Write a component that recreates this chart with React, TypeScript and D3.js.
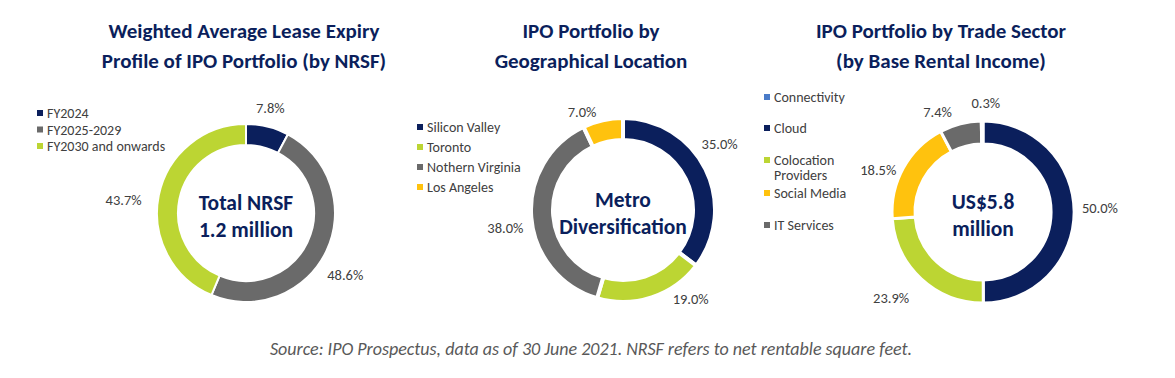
import React from "react";
import * as d3 from "d3";

const W = 1175;
const H = 378;

const NAVY = "#0b1f5c";
const GRAY = "#6a6a6a";
const LIME = "#bcd533";
const YELLOW = "#ffc20e";
const BLUE = "#4a7bc8";
const TEXT = "#404040";
const FONT = "Carlito, Lato, 'Open Sans', sans-serif";

// Chart 1: lease expiry
const leaseCategories = ["FY2024", "FY2025-2029", "FY2030 and onwards"];
const leaseValues = [7.8, 48.6, 43.7];
const leaseColors = [NAVY, GRAY, LIME];

// Chart 2: geography
const geoLegend = ["Silicon Valley", "Toronto", "Nothern Virginia", "Los Angeles"];
const geoValues = [35.0, 19.0, 38.0, 7.0];
const geoColors = [NAVY, LIME, GRAY, YELLOW];

// Chart 3: trade sector; pie order starts with Cloud
const sectorCategories = ["Connectivity", "Cloud", "Colocation Providers", "Social Media", "IT Services"];
const sectorValues = [0.3, 50.0, 23.9, 18.5, 7.4];
const sectorColors = [BLUE, NAVY, LIME, YELLOW, GRAY];
const sectorPieOrder = [1, 2, 3, 4, 0];

const titles = [
  ["Weighted Average Lease Expiry", "Profile of IPO Portfolio (by NRSF)"],
  ["IPO Portfolio by", "Geographical Location"],
  ["IPO Portfolio by Trade Sector", "(by Base Rental Income)"],
];
const centerTexts = [
  ["Total NRSF", "1.2 million"],
  ["Metro", "Diversification"],
  ["US$5.8", "million"],
];
const source = "Source: IPO Prospectus, data as of 30 June 2021. NRSF refers to net rentable square feet.";

type Slice = { label: string; value: number; color: string };

function Donut(props: {
  cx: number; cy: number; r: number; inner: number; slices: Slice[]; gap: number;
  labelR: number[]; labelShift: number[]; center: string[];
}) {
  const { cx, cy, r, inner, slices, gap, labelR, labelShift, center } = props;
  const pie = d3.pie<Slice>().sort(null).value((d) => d.value);
  const arcs = pie(slices);
  const arc = d3.arc<d3.PieArcDatum<Slice>>().innerRadius(inner).outerRadius(r);
  return (
    <g transform={`translate(${cx},${cy})`}>
      {arcs.map((a, i) => (
        <path key={i} d={arc(a) || ""} fill={a.data.color} stroke="#fff" strokeWidth={gap} />
      ))}
      {arcs.map((a, i) => {
        const mid = (a.startAngle + a.endAngle) / 2 + (labelShift[i] * Math.PI) / 180;
        const x = Math.sin(mid) * labelR[i];
        const y = -Math.cos(mid) * labelR[i];
        return (
          <text key={"l" + i} x={x} y={y} textAnchor="middle" dominantBaseline="central"
            fontSize={14.5} fill={TEXT} fontFamily={FONT}>
            {a.data.value.toFixed(1)}%
          </text>
        );
      })}
      <text textAnchor="middle" fontFamily={FONT} fontWeight="bold" fontSize={21.5} fill={NAVY}>
        <tspan x={0} y={-3}>{center[0]}</tspan>
        <tspan x={0} y={24}>{center[1]}</tspan>
      </text>
    </g>
  );
}

function Legend(props: { x: number; items: { label: string[]; color: string; y: number }[] }) {
  return (
    <g>
      {props.items.map((it, i) => (
        <g key={i}>
          <rect x={props.x} y={it.y - 3} width={6} height={6} fill={it.color} />
          <text x={props.x + 10} y={it.y} dominantBaseline="central" fontSize={14}
            fill={TEXT} fontFamily={FONT}>
            {it.label.map((l, j) => (
              <tspan key={j} x={props.x + 10} dy={j === 0 ? 0 : 15}>{l}</tspan>
            ))}
          </text>
        </g>
      ))}
    </g>
  );
}

export default function App() {
  const titleX = [244, 591, 941];
  const leaseSlices = leaseCategories.map((c, i) => ({ label: c, value: leaseValues[i], color: leaseColors[i] }));
  const geoSlices = geoLegend.map((c, i) => ({ label: c, value: geoValues[i], color: geoColors[i] }));
  const sectorSlices = sectorPieOrder.map((i) => ({
    label: sectorCategories[i], value: sectorValues[i], color: sectorColors[i],
  }));
  const legendStep1 = d3.scaleLinear().domain([0, 1]).range([113, 129.5]);
  const legendStep2 = d3.scaleLinear().domain([0, 1]).range([127, 147]);
  const sectorLegendY = [97, 128, 160, 193, 225];
  return (
    <svg width={W} height={H} style={{ position: "absolute", left: 0, top: 0, background: "#fff" }}>
      <rect width={W} height={H} fill="#fff" />
      {titles.map((t, i) => (
        <text key={i} textAnchor="middle" fontFamily={FONT} fontWeight="bold" fontSize={21} fill={NAVY}>
          <tspan x={titleX[i]} y={38}>{t[0]}</tspan>
          <tspan x={titleX[i]} y={68}>{t[1]}</tspan>
        </text>
      ))}
      <Legend x={37} items={leaseCategories.map((c, i) => ({ label: [c], color: leaseColors[i], y: legendStep1(i) }))} />
      <Donut cx={246} cy={213} r={89} inner={68} slices={leaseSlices} gap={2}
        labelR={[108, 117, 123]} labelShift={[-1, 6.5, -5.5]} center={centerTexts[0]} />

      <Legend x={417} items={geoLegend.map((c, i) => ({ label: [c], color: geoColors[i], y: legendStep2(i) }))} />
      <Donut cx={623} cy={210} r={92} inner={70} slices={geoSlices} gap={4}
        labelR={[117, 112, 119, 106]} labelShift={[-8, -19, -4, -10]} center={centerTexts[1]} />

      <Legend x={764} items={sectorCategories.map((c, i) => ({
        label: c === "Colocation Providers" ? ["Colocation", "Providers"] : [c],
        color: sectorColors[i], y: sectorLegendY[i],
      }))} />
      <Donut cx={983} cy={212} r={91} inner={68} slices={sectorSlices} gap={3}
        labelR={[117, 126, 113, 110, 109]} labelShift={[-2, 4, -7, -10, 2]} center={centerTexts[2]} />

      <text x={591} y={355} textAnchor="middle" fontFamily={FONT} fontStyle="italic" fontSize={18} fill="#595959">
        {source}
      </text>
    </svg>
  );
}
